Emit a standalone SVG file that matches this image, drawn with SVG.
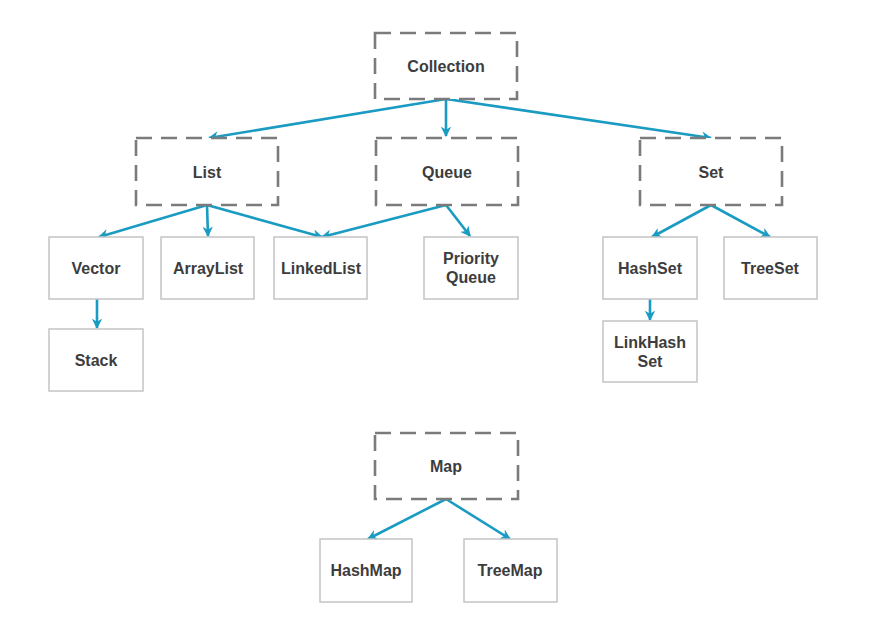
<svg xmlns="http://www.w3.org/2000/svg" width="880" height="630" viewBox="0 0 880 630">
<style>
.dash{fill:#fff;stroke:#7b7b7b;stroke-width:2.6;stroke-dasharray:16 9}
.box{fill:#fff;stroke:#c4c4c4;stroke-width:1.5}
.t{font-family:"Liberation Sans",Arial,sans-serif;font-weight:bold;font-size:16px;fill:#3d3d3d;text-anchor:middle}
.c{fill:none;stroke:#1a9bc2;stroke-width:2.6;marker-end:url(#ah)}
</style>
<defs>
<marker id="ah" viewBox="0 0 10 10" refX="9" refY="5" markerWidth="4" markerHeight="4" orient="auto" markerUnits="strokeWidth">
<path d="M0,0 L10,5 L0,10 L3,5 z" fill="#1a9bc2"/>
</marker>
</defs>
<rect width="880" height="630" fill="#fff"/>
<g id="connectors">
<line class="c" x1="446" y1="99" x2="209" y2="138"/>
<line class="c" x1="446" y1="99" x2="446" y2="136"/>
<line class="c" x1="446" y1="99" x2="711" y2="138"/>
<line class="c" x1="207" y1="205" x2="99" y2="237"/>
<line class="c" x1="207" y1="205" x2="208" y2="236"/>
<line class="c" x1="207" y1="205" x2="322" y2="237"/>
<line class="c" x1="446" y1="205" x2="322" y2="237"/>
<line class="c" x1="446" y1="205" x2="470" y2="236"/>
<line class="c" x1="711" y1="205" x2="652" y2="237"/>
<line class="c" x1="711" y1="205" x2="770" y2="237"/>
<line class="c" x1="97" y1="299" x2="97" y2="328"/>
<line class="c" x1="650" y1="299" x2="650" y2="320"/>
<line class="c" x1="446" y1="499" x2="368" y2="539"/>
<line class="c" x1="446" y1="499" x2="510" y2="539"/>
</g>
<g id="collection"><rect class="dash" x="375" y="33" width="142" height="66"/><text class="t" x="446" y="72">Collection</text></g>
<g id="list"><rect class="dash" x="136" y="138" width="142" height="67"/><text class="t" x="207" y="178">List</text></g>
<g id="queue"><rect class="dash" x="376" y="138" width="142" height="67"/><text class="t" x="447" y="178">Queue</text></g>
<g id="set"><rect class="dash" x="640" y="138" width="142" height="67"/><text class="t" x="711" y="178">Set</text></g>
<g id="vector"><rect class="box" x="49" y="237" width="94" height="62"/><text class="t" x="96" y="274">Vector</text></g>
<g id="arraylist"><rect class="box" x="161" y="237" width="93" height="62"/><text class="t" x="208" y="274">ArrayList</text></g>
<g id="linkedlist"><rect class="box" x="274" y="237" width="93" height="62"/><text class="t" x="321" y="274">LinkedList</text></g>
<g id="priorityqueue"><rect class="box" x="424" y="237" width="94" height="62"/><text class="t" x="471" y="264">Priority</text><text class="t" x="471" y="283">Queue</text></g>
<g id="stack"><rect class="box" x="49" y="329" width="94" height="62"/><text class="t" x="96" y="366">Stack</text></g>
<g id="hashset"><rect class="box" x="603" y="237" width="94" height="62"/><text class="t" x="650" y="274">HashSet</text></g>
<g id="treeset"><rect class="box" x="724" y="237" width="93" height="62"/><text class="t" x="770" y="274">TreeSet</text></g>
<g id="linkhashset"><rect class="box" x="603" y="321" width="94" height="61"/><text class="t" x="650" y="348">LinkHash</text><text class="t" x="650" y="367">Set</text></g>
<g id="map"><rect class="dash" x="375" y="433" width="143" height="66"/><text class="t" x="446" y="472">Map</text></g>
<g id="hashmap"><rect class="box" x="320" y="539" width="92" height="63"/><text class="t" x="366" y="576">HashMap</text></g>
<g id="treemap"><rect class="box" x="464" y="539" width="93" height="63"/><text class="t" x="510" y="576">TreeMap</text></g>
</svg>
